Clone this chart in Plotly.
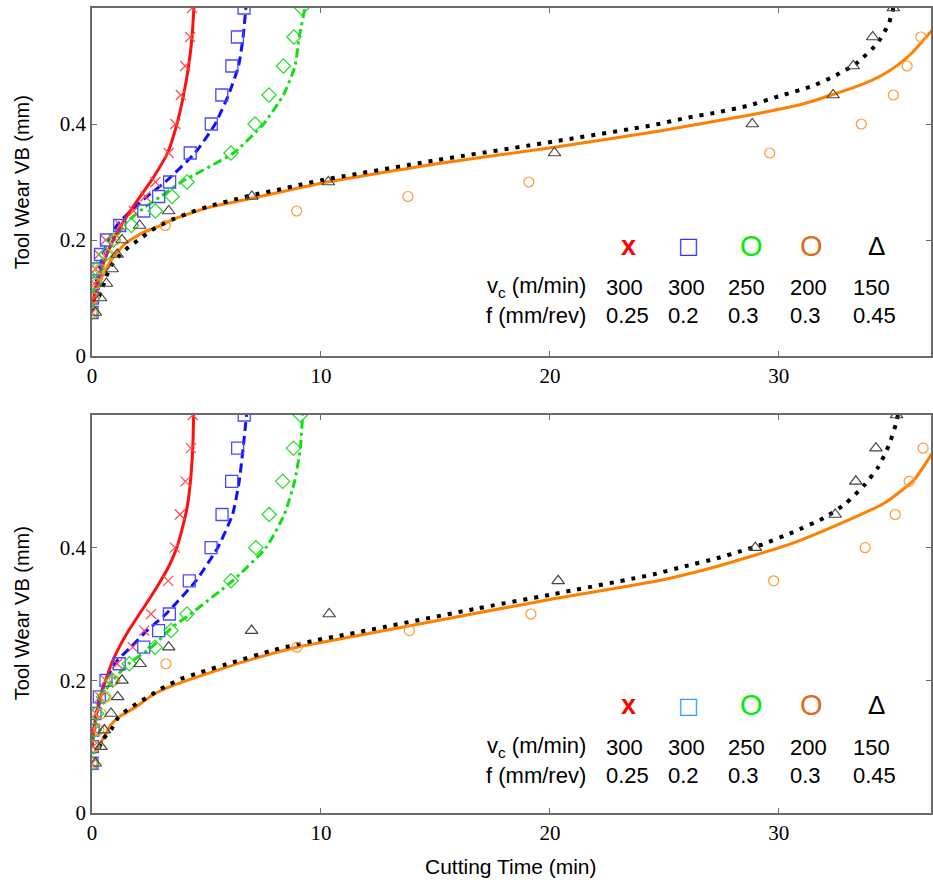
import plotly.graph_objects as go

# ---------------- data ----------------
vb_levels = [0.075, 0.1, 0.125, 0.15, 0.175, 0.2, 0.225, 0.25, 0.275, 0.3,
             0.35, 0.4, 0.45, 0.5, 0.55, 0.6]

# ---- top panel measured points ----
top_red_x = [0.0, 0.05, 0.1, 0.15, 0.3, 0.6, 1.24, 1.82, 2.33, 2.77, 3.35, 3.64, 3.88, 4.07, 4.29, 4.37]
top_blue_x = [0.0, 0.02, 0.05, 0.15, 0.37, 0.63, 1.21, 2.26, 2.91, 3.39, 4.29, 5.21, 5.67, 6.11, 6.35, 6.64]
top_green_x = [0.0, 0.05, 0.1, 0.2, 0.59, 0.94, 1.72, 2.77, 3.5, 4.15, 6.07, 7.12, 7.73, 8.36, 8.82, 9.16]
top_orange_x = [0.0, 0.1, 0.2, 0.35, 0.72, 1.0, 3.2, 8.94, 13.8, 19.08, 29.6, 33.6, 35.0, 35.6, 36.2]
top_black_x = [0.15, 0.37, 0.63, 0.88, 1.1, 1.31, 2.08, 3.35, 6.98, 10.32, 20.2, 28.84, 32.37, 33.25, 34.1, 35.0]

# ---- top panel model curves ----
top_red_line_x = [0.0, 0.15, 0.5, 1.0, 1.6, 2.3, 2.6, 3.3, 3.71, 4.0, 4.22, 4.37, 4.45]
top_red_line_y = [0.08, 0.114, 0.16, 0.206, 0.246, 0.286, 0.303, 0.35, 0.4, 0.45, 0.5, 0.55, 0.6]
top_blue_line_x = [0.0, 0.2, 0.59, 1.1, 1.68, 2.4, 3.2, 4.5, 5.38, 5.96, 6.4, 6.6, 6.72]
top_blue_line_y = [0.08, 0.13, 0.188, 0.226, 0.25, 0.275, 0.3, 0.35, 0.4, 0.45, 0.5, 0.55, 0.6]
top_green_line_x = [0.0, 0.3, 0.8, 1.46, 2.33, 3.0, 3.9, 6.18, 7.49, 8.36, 8.87, 9.05, 9.3]
top_green_line_y = [0.08, 0.143, 0.188, 0.229, 0.257, 0.275, 0.3, 0.35, 0.4, 0.45, 0.5, 0.55, 0.6]
top_orange_line_x = [0.0, 0.1, 0.44, 0.88, 1.46, 2.19, 3.06, 3.56, 5.0, 7.0, 10.0, 15.0, 20.2, 24.8,
                     28.8, 31.0, 32.3, 33.5, 34.5, 35.2, 35.8, 36.7]
top_orange_line_y = [0.085, 0.097, 0.137, 0.168, 0.194, 0.212, 0.226, 0.236, 0.255, 0.272, 0.298, 0.331,
                     0.36, 0.388, 0.416, 0.434, 0.45, 0.466, 0.484, 0.502, 0.522, 0.562]
top_black_line_x = [0.3, 0.45, 0.62, 0.88, 1.17, 1.6, 2.1, 2.5, 3.0, 3.5, 4.33, 5.27, 6.26, 7.17, 8.18,
                    9.05, 10.0, 15.1, 20.2, 24.5, 25.9, 27.3, 28.7, 30.1, 31.5, 32.5, 33.4, 34.3, 34.8, 35.0]
top_black_line_y = [0.102, 0.117, 0.137, 0.158, 0.172, 0.188, 0.202, 0.214, 0.226, 0.235, 0.248, 0.26,
                     0.27, 0.279, 0.287, 0.295, 0.303, 0.338, 0.37, 0.398, 0.41, 0.42, 0.432, 0.449,
                     0.466, 0.484, 0.505, 0.539, 0.573, 0.6]

# ---- bottom panel measured points ----
bot_red_x = [0.0, 0.05, 0.1, 0.17, 0.35, 0.6, 1.1, 1.78, 2.28, 2.58, 3.33, 3.62, 3.84, 4.08, 4.32, 4.4]
bot_blue_x = [0.0, 0.02, 0.05, 0.13, 0.32, 0.61, 1.19, 2.26, 2.91, 3.38, 4.25, 5.2, 5.68, 6.1, 6.36, 6.65]
bot_green_x = [0.0, 0.05, 0.1, 0.2, 0.5, 0.9, 1.63, 2.75, 3.45, 4.15, 6.07, 7.16, 7.74, 8.33, 8.8, 9.1]
bot_orange_x = [0.0, 0.1, 0.3, 0.39, 0.61, 0.97, 3.23, 8.95, 13.86, 19.17, 29.77, 33.77, 35.08, 35.69, 36.3]
bot_black_x = [0.14, 0.39, 0.54, 0.83, 1.12, 1.31, 2.1, 3.35, 6.97, 10.36, 20.36, 28.97, 32.46, 33.36, 34.24, 35.14]

# ---- bottom panel model curves ----
bot_red_line_x = [0.0, 0.08, 0.2, 0.38, 0.6, 0.85, 1.19, 1.6, 2.07, 2.55, 3.0, 3.4, 3.7, 3.95, 4.15, 4.3, 4.4, 4.44]
bot_red_line_y = [0.1, 0.125, 0.15, 0.175, 0.2, 0.225, 0.25, 0.275, 0.3, 0.325, 0.35, 0.375, 0.4, 0.43,
                  0.46, 0.5, 0.55, 0.6]
bot_blue_line_x = [0.0, 0.1, 0.3, 0.6, 1.1, 1.7, 2.4, 3.23, 4.54, 5.49, 6.14, 6.43, 6.6, 6.75]
bot_blue_line_y = [0.1, 0.13, 0.17, 0.2, 0.23, 0.25, 0.275, 0.3, 0.35, 0.4, 0.45, 0.5, 0.55, 0.6]
bot_green_line_x = [0.0, 0.2, 0.5, 0.9, 1.6, 2.6, 3.5, 4.3, 6.14, 7.6, 8.4, 8.85, 9.1, 9.2]
bot_green_line_y = [0.1, 0.15, 0.18, 0.2, 0.225, 0.25, 0.28, 0.3, 0.35, 0.4, 0.45, 0.5, 0.55, 0.6]
bot_orange_line_x = [0.1, 0.25, 0.54, 0.83, 1.19, 1.92, 2.65, 3.6, 5.2, 7.0, 8.95, 10.0, 16.77, 20.0,
                     24.85, 26.8, 28.8, 30.7, 32.4, 34.6, 35.9, 36.8]
bot_orange_line_y = [0.09, 0.098, 0.115, 0.133, 0.145, 0.16, 0.178, 0.193, 0.212, 0.232, 0.25, 0.257,
                     0.301, 0.322, 0.351, 0.367, 0.387, 0.408, 0.432, 0.467, 0.502, 0.548]
bot_black_line_x = [0.3, 0.5, 0.86, 1.12, 1.56, 2.05, 2.5, 2.94, 3.4, 3.86, 4.73, 6.14, 7.96, 9.86, 10.8,
                    16.77, 20.0, 24.55, 25.9, 27.3, 28.27, 29.2, 30.6, 31.98, 32.9, 33.7, 34.35, 34.8,
                    35.1, 35.2]
bot_black_line_y = [0.098, 0.112, 0.127, 0.143, 0.156, 0.167, 0.176, 0.186, 0.194, 0.202, 0.212, 0.227,
                    0.246, 0.261, 0.267, 0.308, 0.329, 0.36, 0.372, 0.384, 0.394, 0.404, 0.423, 0.445,
                    0.466, 0.493, 0.522, 0.554, 0.585, 0.6]

# legend table
legend_symbols = ["x", "\u25A1", "O", "O", "\u0394"]
vc_values = ["300", "300", "250", "200", "150"]
f_values = ["0.25", "0.2", "0.3", "0.3", "0.45"]

# ---------------- styling ----------------
W, H = 933, 889
ML, MR, MT, MB = 92, 0, 8, 76
PW, PH = W - ML - MR, H - MT - MB
top_bottom_px, bot_top_px = 356, 415


def px2paper_x(px):
    return (px - ML) / PW


def px2paper_y(py):
    return (H - MB - py) / PH


marker_colors = ["#FF4a4a", "#4a4aFF", "#22DD22", "#FF9933", "#444444"]
line_colors = ["#FF1010", "#1010FF", "#10E010", "#FF8000", "#000000"]
legend_colors_top = ["#FF0000", "#3333FF", "#00EE00", "#E06A1A", "#000000"]
legend_colors_bot = ["#FF0000", "#3399FF", "#00EE00", "#E06A1A", "#000000"]

fig = go.Figure()
SMOOTH = 0.5


def add_panel(xa, ya, red_x, blue_x, green_x, orange_x, black_x, lines):
    (rlx, rly), (blx, bly), (glx, gly), (olx, oly), (klx, kly) = lines
    common = dict(xaxis=xa, yaxis=ya, showlegend=False, hoverinfo="skip")
    # model curves
    fig.add_trace(go.Scatter(x=olx, y=oly, mode="lines",
                             line=dict(color=line_colors[3], width=3, shape="spline", smoothing=SMOOTH), **common))
    fig.add_trace(go.Scatter(x=klx, y=kly, mode="lines",
                             line=dict(color=line_colors[4], width=4, dash="4px,7px", shape="spline",
                                       smoothing=SMOOTH), **common))
    fig.add_trace(go.Scatter(x=glx, y=gly, mode="lines",
                             line=dict(color=line_colors[2], width=3, dash="9px,4px,3px,4px", shape="spline",
                                       smoothing=SMOOTH), **common))
    fig.add_trace(go.Scatter(x=blx, y=bly, mode="lines",
                             line=dict(color=line_colors[1], width=3, dash="9px,5px", shape="spline",
                                       smoothing=SMOOTH), **common))
    fig.add_trace(go.Scatter(x=rlx, y=rly, mode="lines",
                             line=dict(color=line_colors[0], width=3, shape="spline", smoothing=SMOOTH), **common))
    # measured points
    fig.add_trace(go.Scatter(x=red_x, y=vb_levels[:len(red_x)], mode="markers",
                             marker=dict(symbol="x-thin-open", size=10, color=marker_colors[0],
                                         line=dict(width=1.2, color=marker_colors[0])), **common))
    fig.add_trace(go.Scatter(x=blue_x, y=vb_levels[:len(blue_x)], mode="markers",
                             marker=dict(symbol="square-open", size=12, color=marker_colors[1],
                                         line=dict(width=1.3)), **common))
    fig.add_trace(go.Scatter(x=green_x, y=vb_levels[:len(green_x)], mode="markers",
                             marker=dict(symbol="diamond-open", size=11, color=marker_colors[2],
                                         line=dict(width=1.2)), **common))
    fig.add_trace(go.Scatter(x=orange_x, y=vb_levels[:len(orange_x)], mode="markers",
                             marker=dict(symbol="circle-open", size=10, color=marker_colors[3],
                                         line=dict(width=1.2)), **common))
    fig.add_trace(go.Scatter(x=black_x, y=vb_levels[:len(black_x)], mode="markers",
                             marker=dict(symbol="triangle-up-open", size=11, color=marker_colors[4],
                                         line=dict(width=1.2)), **common))


add_panel("x", "y", top_red_x, top_blue_x, top_green_x, top_orange_x, top_black_x,
          [(top_red_line_x, top_red_line_y), (top_blue_line_x, top_blue_line_y),
           (top_green_line_x, top_green_line_y), (top_orange_line_x, top_orange_line_y),
           (top_black_line_x, top_black_line_y)])
add_panel("x2", "y2", bot_red_x, bot_blue_x, bot_green_x, bot_orange_x, bot_black_x,
          [(bot_red_line_x, bot_red_line_y), (bot_blue_line_x, bot_blue_line_y),
           (bot_green_line_x, bot_green_line_y), (bot_orange_line_x, bot_orange_line_y),
           (bot_black_line_x, bot_black_line_y)])

axis_common = dict(
    showline=True, linecolor="#6a6a6a", linewidth=1.5, mirror="ticks",
    ticks="inside", ticklen=5, tickwidth=1, tickcolor="#6a6a6a",
    showgrid=False, zeroline=False,
    tickfont=dict(family="Liberation Serif", size=21, color="#000000"),
)
x_range = [0, PW / 22.95]
fig.update_layout(
    width=W, height=H,
    margin=dict(l=ML, r=MR, t=MT, b=MB, pad=0),
    paper_bgcolor="white", plot_bgcolor="white",
    xaxis=dict(domain=[0, 1], anchor="y", range=x_range, tickvals=[0, 10, 20, 30], **axis_common),
    yaxis=dict(domain=[px2paper_y(top_bottom_px), 1], anchor="x", range=[0, 0.6],
               tickvals=[0, 0.2, 0.4], ticktext=["0", "0.2", "0.4"], **axis_common),
    xaxis2=dict(domain=[0, 1], anchor="y2", range=x_range, tickvals=[0, 10, 20, 30], **axis_common),
    yaxis2=dict(domain=[0, px2paper_y(bot_top_px)], anchor="x2", range=[0, 0.6],
                tickvals=[0, 0.2, 0.4], ticktext=["0", "0.2", "0.4"], **axis_common),
)

annotations = []
sans = "Liberation Sans, Arial, sans-serif"
# axis titles
for cy in (182, 613):
    annotations.append(dict(x=px2paper_x(22), y=px2paper_y(cy), xref="paper", yref="paper",
                            text="Tool Wear VB (mm)", textangle=-90, showarrow=False,
                            font=dict(family=sans, size=20, color="#000000"),
                            xanchor="center", yanchor="middle"))
annotations.append(dict(x=px2paper_x(512), y=px2paper_y(866), xref="paper", yref="paper",
                        text="Cutting Time (min)", showarrow=False,
                        font=dict(family=sans, size=21, color="#000000"),
                        xanchor="center", yanchor="middle"))

# legend tables
sym_cx = [630, 690, 753, 813, 878]
col_left = [605, 667, 728, 790, 853]
for (sym_y, row1_y, row2_y, colors) in ((246, 287, 315, legend_colors_top), (705, 747, 775, legend_colors_bot)):
    for i in range(5):
        s = legend_symbols[i]
        if s == "x":
            txt, fam, size = "<b>x</b>", sans, 27
        elif s == "O":
            txt, fam, size = "O", sans, 29
        elif s == "\u25A1":
            txt, fam, size = s, "DejaVu Sans", 22
        else:
            txt, fam, size = s, sans, 26
        annotations.append(dict(x=px2paper_x(sym_cx[i]), y=px2paper_y(sym_y), xref="paper", yref="paper",
                                text=txt, showarrow=False, font=dict(family=fam, size=size, color=colors[i]),
                                xanchor="center", yanchor="middle"))
        annotations.append(dict(x=px2paper_x(col_left[i]), y=px2paper_y(row1_y), xref="paper", yref="paper",
                                text=vc_values[i], showarrow=False,
                                font=dict(family=sans, size=22, color="#000000"),
                                xanchor="left", yanchor="middle"))
        annotations.append(dict(x=px2paper_x(col_left[i]), y=px2paper_y(row2_y), xref="paper", yref="paper",
                                text=f_values[i], showarrow=False,
                                font=dict(family=sans, size=22, color="#000000"),
                                xanchor="left", yanchor="middle"))
    annotations.append(dict(x=px2paper_x(589), y=px2paper_y(row1_y), xref="paper", yref="paper",
                            text="v<sub>c</sub> (m/min)", showarrow=False,
                            font=dict(family=sans, size=22, color="#000000"),
                            xanchor="right", yanchor="middle"))
    annotations.append(dict(x=px2paper_x(589), y=px2paper_y(row2_y), xref="paper", yref="paper",
                            text="f (mm/rev)", showarrow=False,
                            font=dict(family=sans, size=22, color="#000000"),
                            xanchor="right", yanchor="middle"))

fig.update_layout(annotations=annotations)
fig.write_html("out.html")
